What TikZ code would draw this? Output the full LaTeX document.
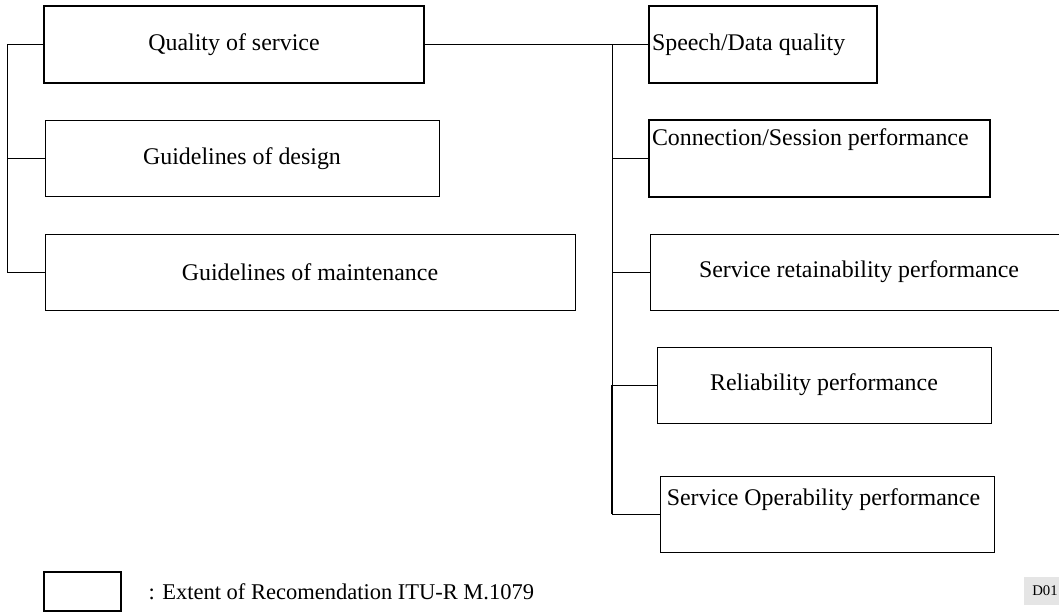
\documentclass[tikz,border=0pt]{standalone}
\usepackage{fontspec}
\setmainfont{Liberation Serif}
\usetikzlibrary{positioning}
\tikzset{
  box/.style 2 args={draw,line width=0.7pt,minimum width=#1*0.025cm,minimum height=#2*0.025cm,inner sep=0pt},
  heavy/.style={line width=1.8pt},
  wire/.style={line width=0.7pt},
  txt/.style={inner sep=0pt}
}
\begin{document}
\begin{tikzpicture}[x=0.025cm,y=-0.025cm,font=\fontsize{17}{20}\selectfont]
      \useasboundingbox (0,0) rectangle (1059,612);
      \clip (0,0) rectangle (1059,612);
      \node[box={380}{77},heavy] (qos) at (234,44.5) {Quality of service};
      \foreach \nm/\cx/\cy/\w/\txt in {design/242/158.5/394/Guidelines of design,
          maint/310/272/530/Guidelines of maintenance,
          retain/859/272/418/Service retainability performance,
          reliab/824/385/334/Reliability performance}{
        \node[box={\w}{76}] (\nm) at (\cx,\cy) {\txt};
      }
      \node[box={228}{77},heavy] (speech) at (763,44.5) {};
      \node[txt,anchor=west] at ([xshift=0.1cm]speech.west) {Speech/Data quality};
      \node[box={341}{77},heavy] (conn) at (819.5,158.5) {};
      \node[txt,anchor=west] at ([xshift=0.1cm,yshift=-0.53cm]conn.north west) {Connection/Session performance};
      \node[box={334}{76}] (oper) at (827,514) {};
      \node[txt,anchor=west] at ([xshift=0.175cm,yshift=-0.6cm]oper.north west) {Service Operability performance};
      \coordinate (lbus) at (7,44.5);
      \draw[wire] (qos.west) -- (lbus) |- (maint.west);
      \draw[wire] (design.west) -- (lbus |- design.west);
      \coordinate (rbus) at (612,44.5);
      \draw[wire] (qos.east) -- (speech.west);
      \draw[wire] (rbus) -- (rbus |- oper.west) -- (oper.west);
      \draw[line width=1.2pt] (rbus |- reliab.west) -- (rbus |- oper.west);
      \foreach \nm in {conn,retain,reliab}{
        \draw[wire] (rbus |- \nm.west) -- (\nm.west);
      }
      \node[box={77}{39},heavy] (legend) at (82.5,591.5) {};
      \node[txt,right=0.65cm of legend,font=\fontsize{16}{19}\selectfont] (legtxt) {: Extent of Recomendation ITU-R M.1079};
      \node[anchor=west,fill=gray!20,minimum height=28*0.025cm,inner xsep=0.2cm,font=\fontsize{10.5}{12}\selectfont] (code) at (1024,591) {D01};
    \end{tikzpicture}
\end{document}
